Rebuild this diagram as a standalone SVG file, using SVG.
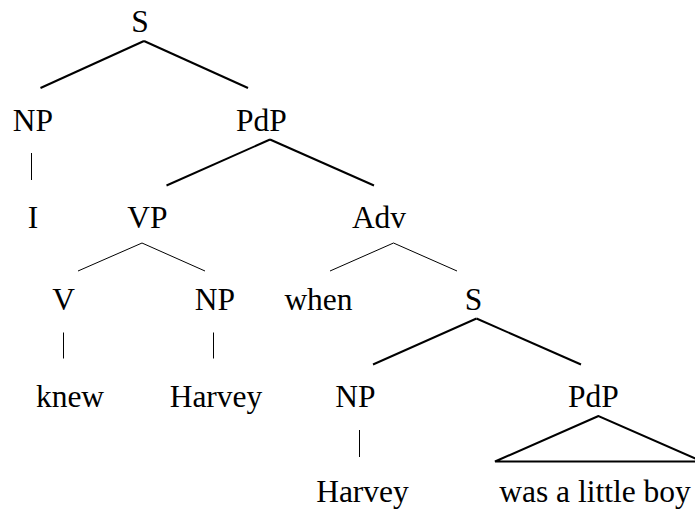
<svg xmlns="http://www.w3.org/2000/svg" width="695" height="512" viewBox="0 0 695 512">
<style>
text{font-family:"Liberation Serif","Times New Roman",serif;font-size:31.5px;fill:#000;text-anchor:middle}
.thick{stroke:#000;stroke-width:2;fill:none}
.thin{stroke:#000;stroke-width:1;fill:none}
</style>
<rect width="695" height="512" fill="#fff"/>
<g id="connectors">
<line class="thick" x1="144" y1="41" x2="40.5" y2="88"/>
<line class="thick" x1="144" y1="41" x2="248" y2="88"/>
<line class="thin" x1="31.5" y1="153" x2="31.5" y2="180"/>
<line class="thick" x1="270" y1="139.5" x2="166.5" y2="185.5"/>
<line class="thick" x1="270" y1="139.5" x2="374" y2="185.5"/>
<line class="thin" x1="142" y1="243" x2="78" y2="271"/>
<line class="thin" x1="142" y1="243" x2="205" y2="271"/>
<line class="thin" x1="393.5" y1="243" x2="330" y2="271"/>
<line class="thin" x1="393.5" y1="243" x2="457" y2="271"/>
<line class="thin" x1="63.5" y1="332.5" x2="63.5" y2="358.5"/>
<line class="thin" x1="213.5" y1="332.5" x2="213.5" y2="358.5"/>
<line class="thick" x1="476.5" y1="318.5" x2="373" y2="364.5"/>
<line class="thick" x1="476.5" y1="318.5" x2="581" y2="364.5"/>
<line class="thin" x1="359.5" y1="430" x2="359.5" y2="457"/>
<polygon class="thick" points="598.5,416 495,461.5 702,461.5"/>
</g>
<g id="S1"><text x="140" y="32">S</text></g>
<g id="NP1"><text x="33" y="131">NP</text></g>
<g id="PdP1"><text x="261.5" y="131">PdP</text></g>
<g id="I"><text x="33" y="228">I</text></g>
<g id="VP"><text x="147.5" y="228">VP</text></g>
<g id="Adv"><text x="379" y="228">Adv</text></g>
<g id="V"><text x="63.5" y="310">V</text></g>
<g id="NP2"><text x="215" y="310">NP</text></g>
<g id="when"><text x="318.5" y="310">when</text></g>
<g id="S2"><text x="473.5" y="310">S</text></g>
<g id="knew"><text x="70" y="407">knew</text></g>
<g id="Harvey1"><text x="216" y="407">Harvey</text></g>
<g id="NP3"><text x="355.5" y="407">NP</text></g>
<g id="PdP2"><text x="593.5" y="407">PdP</text></g>
<g id="Harvey2"><text x="362.5" y="502">Harvey</text></g>
<g id="boy"><text x="595" y="502">was a little boy</text></g>
</svg>
